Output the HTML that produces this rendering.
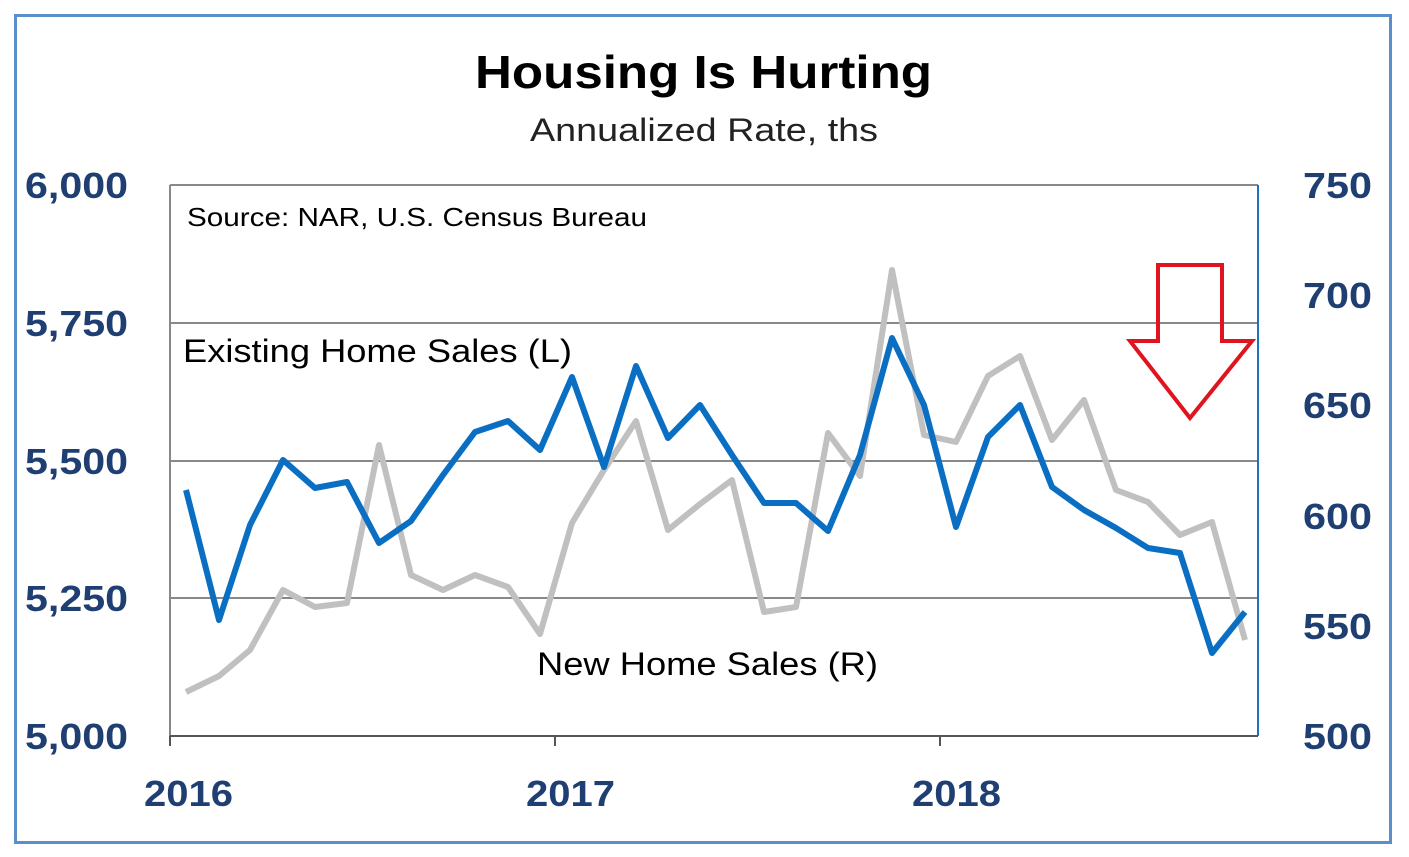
<!DOCTYPE html>
<html><head><meta charset="utf-8"><style>
html,body{margin:0;padding:0;background:#fff;}
svg{display:block;}
</style></head><body>
<svg width="1409" height="857" viewBox="0 0 1409 857" xmlns="http://www.w3.org/2000/svg" font-family="Liberation Sans, sans-serif">
<rect x="0" y="0" width="1409" height="857" fill="#fff"/>
<rect x="15.5" y="15.5" width="1375" height="827" fill="none" stroke="#5b8fc9" stroke-width="3"/>
<text x="475" y="88" textLength="457" lengthAdjust="spacingAndGlyphs" font-size="46" font-weight="bold" fill="#000">Housing Is Hurting</text>
<text x="530" y="141" textLength="348" lengthAdjust="spacingAndGlyphs" font-size="32" fill="#222">Annualized Rate, ths</text>
<g stroke="#888" stroke-width="2">
<line x1="170" y1="185" x2="1258" y2="185"/>
<line x1="170" y1="323" x2="1258" y2="323"/>
<line x1="170" y1="461" x2="1258" y2="461"/>
<line x1="170" y1="598" x2="1258" y2="598"/>
<line x1="170" y1="185" x2="170" y2="736"/>
</g>
<line x1="170" y1="736" x2="1258" y2="736" stroke="#555" stroke-width="2"/>
<line x1="1258" y1="185" x2="1258" y2="736" stroke="#1a73c0" stroke-width="2"/>
<g stroke="#555" stroke-width="2">
<line x1="555" y1="736" x2="555" y2="746"/>
<line x1="940" y1="736" x2="940" y2="746"/>
<line x1="170" y1="736" x2="170" y2="746"/>
</g>
<g font-size="36" font-weight="bold" fill="#1f3f73">
<text x="25" y="198" textLength="103" lengthAdjust="spacingAndGlyphs">6,000</text>
<text x="25" y="336" textLength="103" lengthAdjust="spacingAndGlyphs">5,750</text>
<text x="25" y="474" textLength="103" lengthAdjust="spacingAndGlyphs">5,500</text>
<text x="25" y="611" textLength="103" lengthAdjust="spacingAndGlyphs">5,250</text>
<text x="25" y="749" textLength="103" lengthAdjust="spacingAndGlyphs">5,000</text>
</g>
<g font-size="36" font-weight="bold" fill="#1f3f73">
<text x="1303" y="198" textLength="69" lengthAdjust="spacingAndGlyphs">750</text>
<text x="1303" y="308" textLength="69" lengthAdjust="spacingAndGlyphs">700</text>
<text x="1303" y="418" textLength="69" lengthAdjust="spacingAndGlyphs">650</text>
<text x="1303" y="529" textLength="69" lengthAdjust="spacingAndGlyphs">600</text>
<text x="1303" y="639" textLength="69" lengthAdjust="spacingAndGlyphs">550</text>
<text x="1303" y="749" textLength="69" lengthAdjust="spacingAndGlyphs">500</text>
</g>
<g font-size="36" font-weight="bold" fill="#1f3f73">
<text x="144" y="806" textLength="89" lengthAdjust="spacingAndGlyphs">2016</text>
<text x="526" y="806" textLength="89" lengthAdjust="spacingAndGlyphs">2017</text>
<text x="912" y="806" textLength="89" lengthAdjust="spacingAndGlyphs">2018</text>
</g>
<text x="187" y="226" textLength="460" lengthAdjust="spacingAndGlyphs" font-size="26" fill="#000">Source: NAR, U.S. Census Bureau</text>
<text x="183" y="362" textLength="389" lengthAdjust="spacingAndGlyphs" font-size="32" fill="#000">Existing Home Sales (L)</text>
<text x="537" y="675" textLength="341" lengthAdjust="spacingAndGlyphs" font-size="32" fill="#000">New Home Sales (R)</text>
<polyline fill="none" stroke="#c0c0c0" stroke-width="6" stroke-linejoin="round" points="186,692 219,676 250,650 283,590 315,607 347,603 379,445 411,575 443,590 475,575 508,587 540,634 572,523 604,470 636,421 668,530 700,504 732,480 764,612 796,607 828,433 860,476 892,270 924,435 956,442 988,376 1020,356 1052,440 1084,400 1116,490 1148,502 1180,535 1212,522 1245,640"/>
<polyline fill="none" stroke="#0a6fc2" stroke-width="6" stroke-linejoin="round" points="186,490 219,620 250,525 283,460 315,488 347,482 379,543 411,521 443,475 475,432 508,421 540,450 572,377 604,467 636,366 668,438 700,405 732,455 764,503 796,503 828,531 860,455 892,338 924,405 956,527 988,437 1020,405 1052,487 1084,510 1116,528 1148,548 1180,553 1212,653 1245,612"/>
<polygon points="1158,265 1222,265 1222,341 1252,341 1190,418 1130,341 1158,341" fill="none" stroke="#e0141e" stroke-width="4"/>
</svg>
</body></html>
